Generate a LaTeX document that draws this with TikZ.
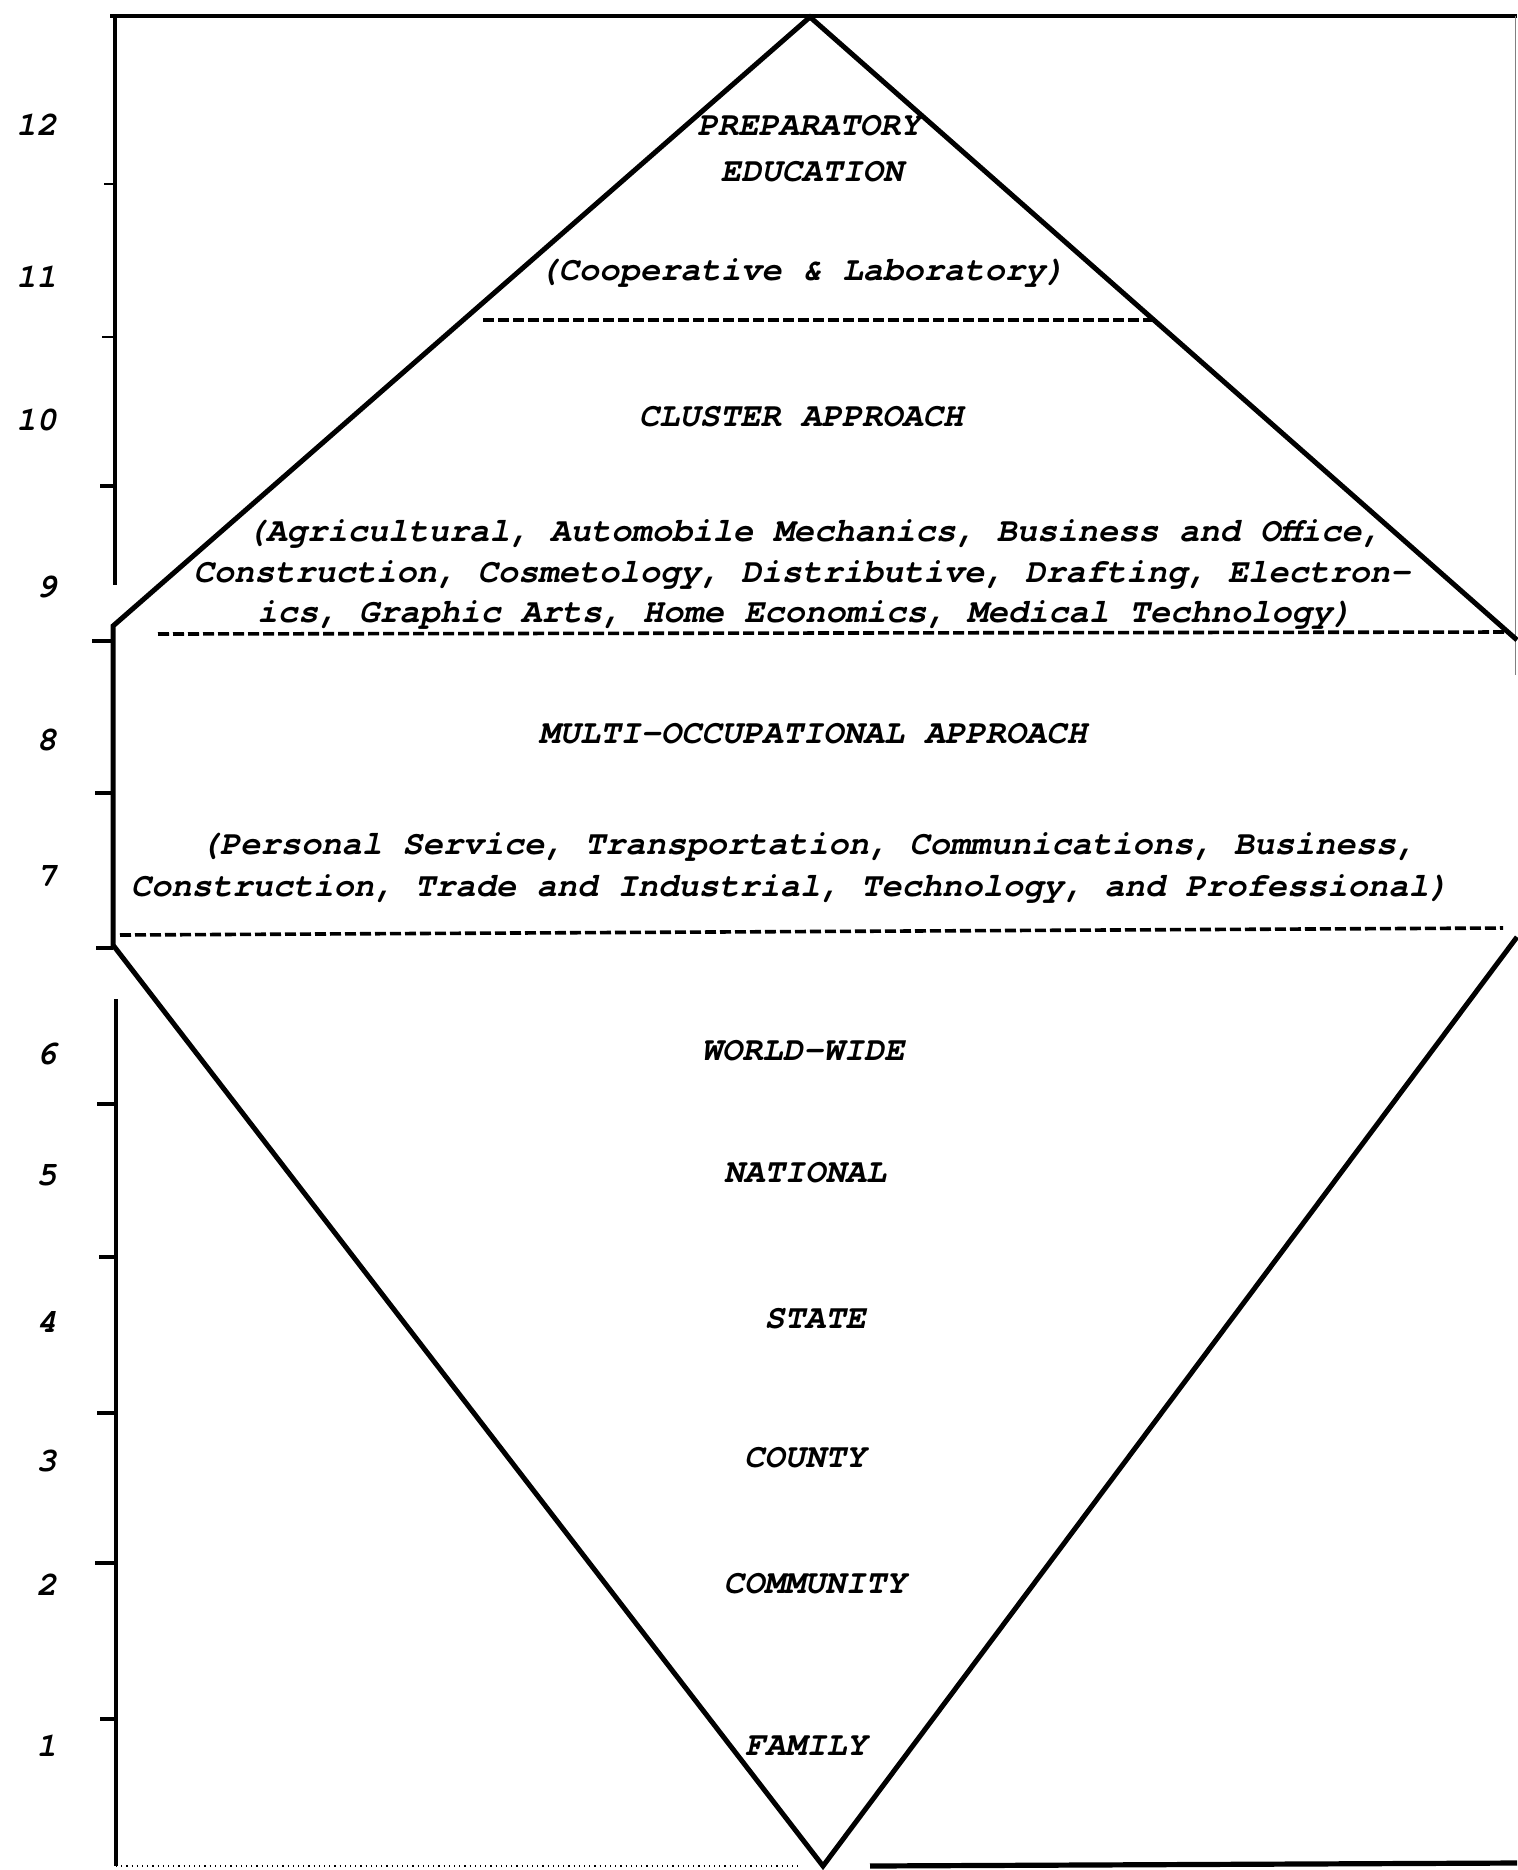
\documentclass[tikz,border=0pt]{standalone}
\usepackage{fontspec}
\newfontfamily\typer{TeX Gyre Cursor}
\newcommand{\gradeno}[2]{%
  \node[gradelabel] (Grade#1) at (57,#2) {#1};}
\newcommand{\tierline}[3]{%
  \node[tiertext] (#1) at (#2) {#3};}

\begin{document}
\begin{tikzpicture}[x=0.5pt,y=-0.5pt,
  frameline/.style={line width=2pt},
  outline/.style={line width=2.5pt, line join=miter},
  cutline/.style={line width=1.8pt, dash pattern=on 5.5pt off 2pt},
  axistick/.style={line width=1.6pt},
  gradelabel/.style={anchor=base east, inner sep=0pt,
    font=\typer\bfseries\itshape\fontsize{16.9pt}{20pt}\selectfont},
  tiertext/.style={anchor=base, inner sep=0pt,
    font=\typer\bfseries\itshape\fontsize{16.9pt}{20pt}\selectfont}]

\useasboundingbox (0,0) rectangle (1517,1870);

\coordinate (Apex) at (810,17);
\coordinate (NoseUp) at (113,626);
\coordinate (NoseLow) at (113,945);
\coordinate (Base) at (823,1866);
\coordinate (EdgeUp) at (1517,640);
\coordinate (EdgeLow) at (1517,937);

\draw[frameline] (110,16) -- (1517,16);
\draw[frameline] (115,16) -- (115,585);
\draw[frameline] (116,999) -- (116,1866);
\draw[line width=0.5pt, gray] (1515,16) -- (1515,675);
\draw[line width=0.6pt, dotted] (116,1866) -- (800,1866);
\draw[frameline, line width=2.6pt] (870,1866) -- (1517,1863);

\draw[outline] (EdgeUp) -- (Apex) -- (NoseUp) -- (NoseLow) -- (Base) -- (EdgeLow);

\draw[cutline] (483,320) -- (1152,320);
\draw[cutline] (158,634) -- (1508,632);
\draw[cutline] (120,935) -- (1503,928);

\draw[axistick, line width=1pt] (104,184) -- (115,184);
\draw[axistick, line width=1pt] (102,337) -- (115,337);
\draw[axistick] (100,486) -- (115,486);
\draw[axistick] (92,641) -- (113,641);
\draw[axistick] (95,793) -- (113,793);
\draw[axistick] (96,948) -- (113,948);
\draw[axistick] (97,1104) -- (116,1104);
\draw[axistick] (99,1257) -- (116,1257);
\draw[axistick] (97,1413) -- (116,1413);
\draw[axistick] (95,1563) -- (116,1563);
\draw[axistick] (100,1719) -- (116,1719);

\gradeno{12}{135}
\gradeno{11}{287}
\gradeno{10}{430}
\gradeno{9}{597}
\gradeno{8}{750}
\gradeno{7}{886}
\gradeno{6}{1064}
\gradeno{5}{1185}
\gradeno{4}{1332}
\gradeno{3}{1471}
\gradeno{2}{1595}
\gradeno{1}{1756}

\tierline{PrepTitle}{809,135}{PREPARATORY}
\tierline{PrepTitleB}{812,181}{EDUCATION}
\tierline{CoopText}{802,280}{(Cooperative \& Laboratory)}

\tierline{ClusterTitle}{801,426}{CLUSTER APPROACH}
\tierline{ClusterListA}{814,541}{(Agricultural, Automobile Mechanics, Business and Office,}
\tierline{ClusterListB}{802,582}{Construction, Cosmetology, Distributive, Drafting, Electron-}
\tierline{ClusterListC}{805,622}{ics, Graphic Arts, Home Economics, Medical Technology)}

\tierline{MultiTitle}{813,743}{MULTI-OCCUPATIONAL APPROACH}
\tierline{MultiListA}{808,854}{(Personal Service, Transportation, Communications, Business,}
\tierline{MultiListB}{790,896}{Construction, Trade and Industrial, Technology, and Professional)}

\tierline{WorldWide}{803,1060}{WORLD-WIDE}
\tierline{National}{805,1182}{NATIONAL}
\tierline{State}{815,1328}{STATE}
\tierline{County}{805,1467}{COUNTY}
\tierline{Community}{815,1593}{COMMUNITY}
\tierline{Family}{806,1755}{FAMILY}

\end{tikzpicture}
\end{document}
